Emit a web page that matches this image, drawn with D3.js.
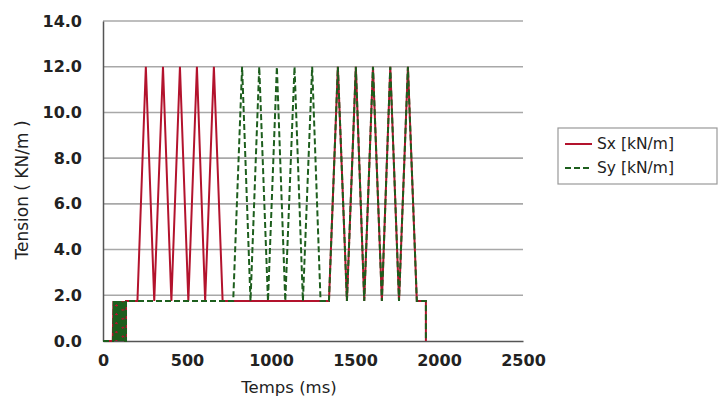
<!DOCTYPE html>
<html>
<head>
<meta charset="utf-8">
<script src="https://cdn.jsdelivr.net/npm/d3@7"></script>
<style>
  body { margin: 0; background: #fff; }
  text { font-family: "DejaVu Sans", sans-serif; }
</style>
</head>
<body>
<svg id="chart"></svg>
<script>
// tick labels
const xTicks = [0, 500, 1000, 1500, 2000, 2500];
const yTicks = [0, 2, 4, 6, 8, 10, 12, 14];

// Sx [kN/m] : time (ms), value
const sxData = [
  [0, 0], [58, 0], [62, 1.75], [66, 0], [70, 1.75], [74, 0], [78, 1.75], [82, 0],
  [86, 1.75], [90, 0], [94, 1.75], [98, 0], [102, 1.75], [106, 0], [110, 1.75],
  [114, 0], [118, 1.75], [122, 0], [126, 1.75], [130, 0], [137, 0], [137, 1.75],
  [205, 1.75], [255, 12], [305, 1.75], [357, 12], [407, 1.75], [458, 12],
  [508, 1.75], [559, 12], [608, 1.75], [660, 12], [712, 1.75],
  [1345, 1.75], [1398, 12], [1452, 1.75], [1505, 12], [1555, 1.75], [1607, 12],
  [1660, 1.75], [1710, 12], [1762, 1.75], [1815, 12], [1868, 1.75],
  [1922, 1.75], [1922, 0]
];

// Sy [kN/m] : time (ms), value
const syData = [
  [0, 0], [60, 0], [64, 1.75], [68, 0], [72, 1.75], [76, 0], [80, 1.75], [84, 0],
  [88, 1.75], [92, 0], [96, 1.75], [100, 0], [104, 1.75], [108, 0], [112, 1.75],
  [116, 0], [120, 1.75], [124, 0], [128, 1.75], [132, 0], [137, 0], [137, 1.75],
  [775, 1.75], [828, 12], [878, 1.75], [930, 12], [982, 1.75], [1035, 12],
  [1085, 1.75], [1140, 12], [1190, 1.75], [1245, 12], [1295, 1.75],
  [1345, 1.75], [1398, 12], [1452, 1.75], [1505, 12], [1555, 1.75], [1607, 12],
  [1660, 1.75], [1710, 12], [1762, 1.75], [1815, 12], [1868, 1.75],
  [1922, 1.75], [1922, 0]
];

const seriesNames = ["Sx [kN/m]", "Sy [kN/m]"];

let width = 727;
let height = 401;
let margin = {top: 21, right: 204, bottom: 60, left: 103};

let svg = d3.select("#chart")
  .attr("width", width)
  .attr("height", height);

svg.append("rect").attr("width", width).attr("height", height).attr("fill", "#fff");

let xScale = d3.scaleLinear()
  .domain([0, 2500])
  .range([margin.left, width - margin.right]);

let yScale = d3.scaleLinear()
  .domain([0, 14])
  .range([height - margin.bottom, margin.top]);

// grid lines
svg.append("g")
  .selectAll("line")
  .data(yTicks.filter(d => d > 0))
  .join("line")
  .attr("x1", xScale(0))
  .attr("x2", xScale(2500))
  .attr("y1", d => yScale(d))
  .attr("y2", d => yScale(d))
  .attr("stroke", "#a8a8a8")
  .attr("stroke-width", 1.6);

// y axis
let yAxis = svg.append("g")
  .attr("transform", `translate(${xScale(0)},0)`)
  .call(d3.axisLeft(yScale).tickValues(yTicks).tickFormat(d3.format(".1f")).tickSize(0).tickPadding(21));
yAxis.select(".domain").attr("stroke", "#555").attr("stroke-width", 1.5);
yAxis.selectAll("text")
  .attr("font-size", 16)
  .attr("font-weight", "bold")
  .attr("fill", "#222")
  .attr("font-family", "DejaVu Sans");

// x axis
let xAxis = svg.append("g")
  .attr("transform", `translate(0,${yScale(0)})`)
  .call(d3.axisBottom(xScale).tickValues(xTicks).tickFormat(d3.format("d")).tickSize(0).tickPadding(14));
xAxis.select(".domain").attr("stroke", "#555").attr("stroke-width", 1.5);
xAxis.selectAll("text")
  .attr("font-size", 16)
  .attr("font-weight", "bold")
  .attr("fill", "#222")
  .attr("font-family", "DejaVu Sans");

// axis titles
svg.append("text")
  .attr("x", 289)
  .attr("y", 393)
  .attr("text-anchor", "middle")
  .attr("font-size", 16.5)
  .attr("fill", "#222")
  .text("Temps (ms)");

svg.append("text")
  .attr("transform", `translate(28,190) rotate(-90)`)
  .attr("text-anchor", "middle")
  .attr("font-size", 17)
  .attr("fill", "#222")
  .text("Tension ( KN/m )");

// lines
let line = d3.line()
  .x(d => xScale(d[0]))
  .y(d => yScale(d[1]));

svg.append("path")
  .datum(sxData)
  .attr("d", line)
  .attr("fill", "none")
  .attr("stroke", "#b3132d")
  .attr("stroke-width", 2);

svg.append("path")
  .datum(syData)
  .attr("d", line)
  .attr("fill", "none")
  .attr("stroke", "#1d5e1d")
  .attr("stroke-width", 2)
  .attr("stroke-dasharray", "6,3");

// legend
let legend = svg.append("g");
legend.append("rect")
  .attr("x", 558)
  .attr("y", 128)
  .attr("width", 159)
  .attr("height", 56)
  .attr("fill", "#fff")
  .attr("stroke", "#999")
  .attr("stroke-width", 1.2);

let legendStyles = [
  {color: "#b3132d", dash: null},
  {color: "#1d5e1d", dash: "6,3"}
];

legend.selectAll("line")
  .data(seriesNames)
  .join("line")
  .attr("x1", 565)
  .attr("x2", 592)
  .attr("y1", (d, i) => 144 + i * 24)
  .attr("y2", (d, i) => 144 + i * 24)
  .attr("stroke", (d, i) => legendStyles[i].color)
  .attr("stroke-width", 2)
  .attr("stroke-dasharray", (d, i) => legendStyles[i].dash);

legend.selectAll("text")
  .data(seriesNames)
  .join("text")
  .attr("x", 597)
  .attr("y", (d, i) => 144 + i * 24)
  .attr("dy", "0.35em")
  .attr("font-size", 15.5)
  .attr("fill", "#222")
  .text(d => d);
</script>
</body>
</html>
